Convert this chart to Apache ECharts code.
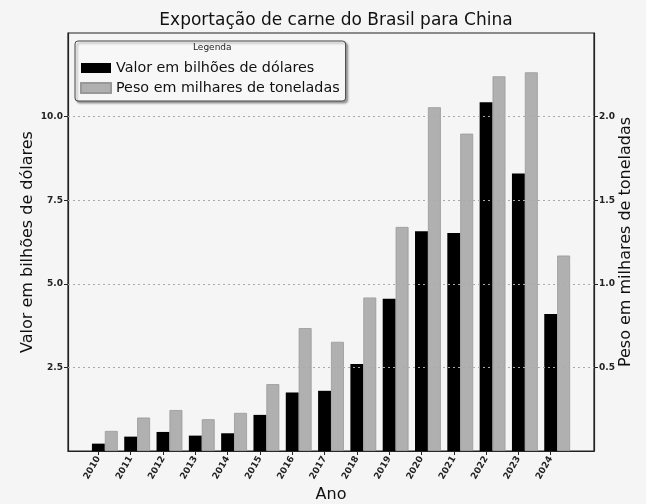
<!DOCTYPE html>
<html>
<head>
<meta charset="utf-8">
<script src="https://cdn.jsdelivr.net/npm/echarts@6/dist/echarts.min.js"></script>
<style>
html,body{margin:0;padding:0;background:#f5f5f5;}
#chart{width:646px;height:504px;}
</style>
</head>
<body>
<div id="chart"></div>
<script>
const years = [2010, 2011, 2012, 2013, 2014, 2015, 2016, 2017, 2018, 2019, 2020, 2021, 2022, 2023, 2024];
const valor = [0.22, 0.43, 0.57, 0.46, 0.53, 1.08, 1.75, 1.80, 2.60, 4.55, 6.57, 6.52, 10.43, 8.30, 4.10];
const peso = [0.12, 0.20, 0.245, 0.19, 0.228, 0.40, 0.735, 0.653, 0.918, 1.34, 2.056, 1.898, 2.241, 2.265, 1.169];
const leftTicks = [2.5, 5.0, 7.5, 10.0];
const rightTicks = [0.5, 1.0, 1.5, 2.0];

const FONT = 'DejaVu Sans';
const chart = echarts.init(document.getElementById('chart'));
chart.setOption({
  backgroundColor: '#f5f5f5',
  animation: false,
  textStyle: { fontFamily: FONT },
  title: {
    text: 'Exportação de carne do Brasil para China',
    left: 331, top: 7, textAlign: 'center',
    textStyle: { fontFamily: FONT, fontSize: 17, fontWeight: 'normal', color: '#111' }
  },
  grid: { left: 68, right: 52, top: 33, bottom: 53, outerBoundsMode: 'none', containLabel: false, show: true, borderColor: '#222', borderWidth: 1.2, backgroundColor: 'transparent' },
  legend: {
    orient: 'vertical', left: 75, top: 41,
    padding: [20, 6, 6, 5], itemGap: 6,
    itemWidth: 30, itemHeight: 10, icon: 'rect',
    backgroundColor: '#f7f7f7', borderColor: '#444', borderWidth: 1, borderRadius: 3,
    shadowColor: 'rgba(0,0,0,0.35)', shadowOffsetX: 2, shadowOffsetY: 2, shadowBlur: 2,
    textStyle: { fontFamily: FONT, fontSize: 14.3, color: '#111' },
    data: ['Valor em bilhões de dólares', 'Peso em milhares de toneladas']
  },
  graphic: [{
    type: 'text', left: 193, top: 43, z: 100,
    style: { text: 'Legenda', fontFamily: FONT, fontSize: 9, fill: '#222' }
  }],
  xAxis: [{
    type: 'value', min: 2009.06, max: 2025.34,
    name: 'Ano', nameLocation: 'middle', nameGap: 36, nameMoveOverlap: false,
    nameTextStyle: { fontFamily: FONT, fontSize: 16, color: '#111' },
    axisLine: { show: true, lineStyle: { color: '#222', width: 1.2 } },
    axisTick: { show: true, customValues: years, length: 4, lineStyle: { color: '#222' } },
    axisLabel: { customValues: years, rotate: 60, fontSize: 9, color: '#222', fontWeight: 'bold', margin: 6, formatter: v => String(v) },
    splitLine: { show: false }
  }, {
    type: 'value', min: 2008.66, max: 2024.94, show: false, splitLine: { show: false }
  }],
  yAxis: [{
    type: 'value', min: 0, max: 12.5,
    name: 'Valor em bilhões de dólares', nameLocation: 'middle', nameGap: 32, nameMoveOverlap: false,
    nameTextStyle: { fontFamily: FONT, fontSize: 16, color: '#111' },
    axisLine: { show: true, lineStyle: { color: '#222', width: 1.2 } },
    axisTick: { show: true, customValues: leftTicks, length: 4, lineStyle: { color: '#222' } },
    axisLabel: { customValues: leftTicks, fontSize: 9, color: '#222', fontWeight: 'bold', margin: 5, formatter: v => v.toFixed(1) },
    splitLine: { show: false }
  }, {
    type: 'value', min: 0, max: 2.5, position: 'right',
    name: 'Peso em milhares de toneladas', nameLocation: 'middle', nameGap: 24, nameMoveOverlap: false,
    nameTextStyle: { fontFamily: FONT, fontSize: 16, color: '#111' },
    axisLine: { show: true, lineStyle: { color: '#222', width: 1.2 } },
    axisTick: { show: true, customValues: rightTicks, length: 4, lineStyle: { color: '#222' } },
    axisLabel: { customValues: rightTicks, fontSize: 9, color: '#222', fontWeight: 'bold', margin: 5, formatter: v => v.toFixed(1) },
    splitLine: { show: false }
  }],
  series: [{
    name: 'Valor em bilhões de dólares', type: 'bar',
    xAxisIndex: 0, yAxisIndex: 0, barWidth: 12.9,
    itemStyle: { color: '#000000' },
    data: years.map((y, i) => [y, valor[i]]),
    markLine: {
      silent: true, symbol: 'none', label: { show: false },
      lineStyle: { type: [2, 3], color: '#aaa', width: 1 },
      data: leftTicks.map(t => ({ yAxis: t }))
    }
  }, {
    name: 'Peso em milhares de toneladas', type: 'bar',
    xAxisIndex: 1, yAxisIndex: 1, barWidth: 12.9,
    itemStyle: { color: '#b0b0b0', borderColor: '#999', borderWidth: 0.8 },
    data: years.map((y, i) => [y, peso[i]])
  }]
});
</script>
</body>
</html>
